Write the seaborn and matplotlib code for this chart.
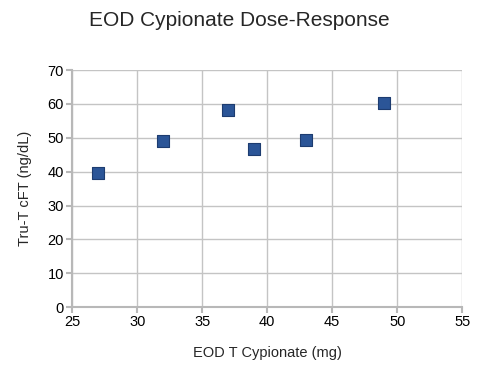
import matplotlib
matplotlib.use("Agg")
import matplotlib.pyplot as plt
import seaborn as sns
import pandas as pd

# data
dose_mg = [27, 32, 37, 39, 43, 49]
cft_ngdl = [39.7, 49.1, 58.2, 46.8, 49.3, 60.3]

sns.set_style("white")
plt.rcParams['font.family'] = ['Liberation Sans', 'DejaVu Sans']

df = pd.DataFrame({"dose": dose_mg, "cft": cft_ngdl})

fig = plt.figure(figsize=(4.78, 3.75), dpi=100)
ax = fig.add_axes([0.151, 0.181, 0.816, 0.632])

sns.scatterplot(data=df, x="dose", y="cft", marker="s", s=85,
                color="#2b5597", edgecolor="#1d3c70", linewidth=0.8,
                ax=ax, zorder=3)

ax.set_xlim(25, 55)
ax.set_ylim(0, 70)
ax.set_xticks(range(25, 56, 5))
ax.set_yticks(range(0, 71, 10))
ax.grid(True, color="#c4c4c4", linewidth=1)
ax.set_axisbelow(True)
for side in ["top", "right"]:
    ax.spines[side].set_visible(False)
for side in ["left", "bottom"]:
    ax.spines[side].set_color("#b8b8b8")
    ax.spines[side].set_linewidth(1.5)
ax.tick_params(axis="both", length=4, width=1.5, color="#b8b8b8",
               labelsize=10.5, labelcolor="black", pad=2, direction="out",
               bottom=True, left=True)

ax.set_xlabel("EOD T Cypionate (mg)", fontsize=10.5, labelpad=12)
ax.set_ylabel("Tru-T cFT (ng/dL)", fontsize=10.5, labelpad=11)
fig.suptitle("EOD Cypionate Dose-Response", fontsize=15, y=0.97)

fig.savefig("out.png", dpi=100)
